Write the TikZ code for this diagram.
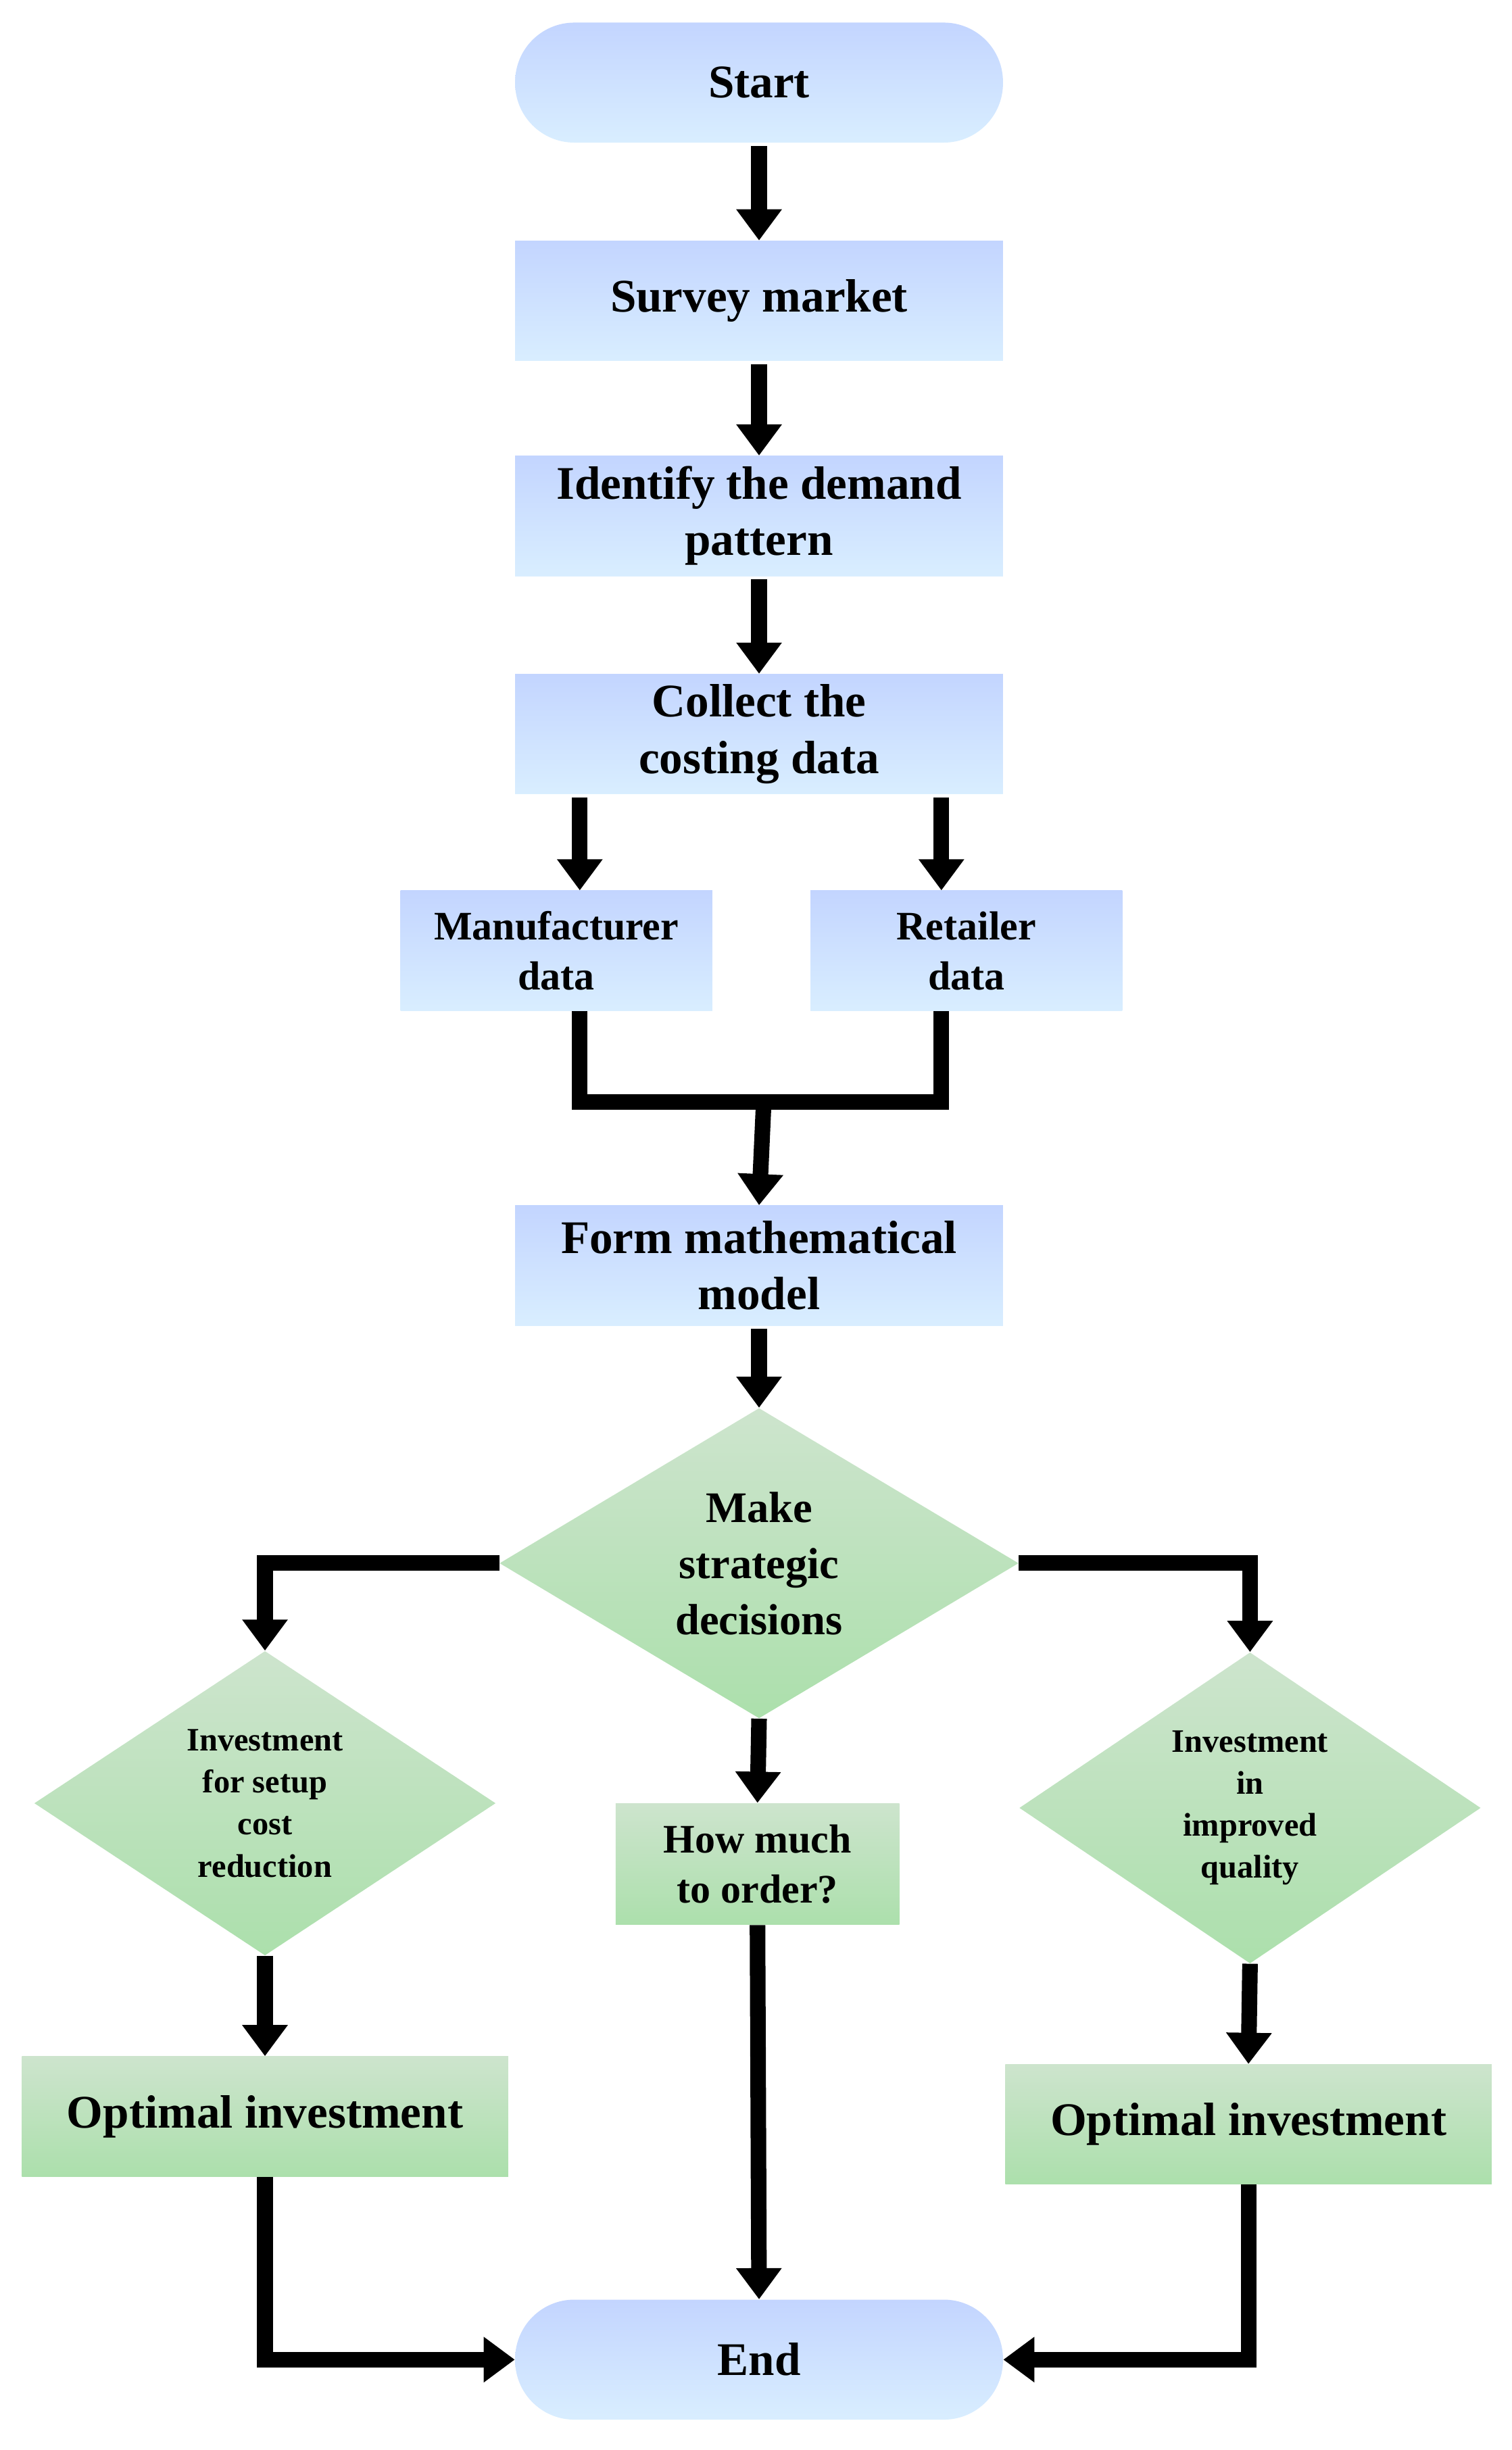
\documentclass[tikz,border=0pt]{standalone}
\usepackage{fontspec}
\setmainfont{Liberation Serif}
\usetikzlibrary{shapes.geometric,arrows.meta}
\begin{document}
\begin{tikzpicture}[x=1pt,y=-1pt,
 blue/.style={draw=none,top color=blue!18!cyan!10!white!85!blue,bottom color=blue!45!cyan!15!white,font=\bfseries\fontsize{30}{36}\selectfont,align=center,inner sep=0pt},
 grn/.style={draw=none,top color=green!30!gray!30!white,bottom color=green!45!gray!45!white,font=\bfseries\fontsize{30}{36}\selectfont,align=center,inner sep=0pt},
 arr/.style={line width=10pt,-{Triangle[width=28pt,length=20pt]}},
 ln/.style={line width=10pt}]
\useasboundingbox (0,0) rectangle (970,1572);
\node[blue,rounded corners=38pt,minimum width=313pt,minimum height=77pt] (start) at (487,53) {Start};
\node[blue,minimum width=313pt,minimum height=77pt] (survey) at (487,193) {Survey market};
\node[blue,minimum width=313pt,minimum height=77pt] (ident) at (487,331) {Identify the demand\\pattern};
\node[blue,minimum width=313pt,minimum height=77pt] (coll) at (487,471) {Collect the\\costing data};
\node[blue,minimum width=200pt,minimum height=77pt,font=\bfseries\fontsize{26}{32}\selectfont] (man) at (357,610) {Manufacturer\\data};
\node[blue,minimum width=200pt,minimum height=77pt,font=\bfseries\fontsize{26}{32}\selectfont] (ret) at (620,610) {Retailer\\data};
\node[blue,minimum width=313pt,minimum height=77pt] (form) at (487,812) {Form mathematical\\model};
\node[grn,diamond,minimum width=333pt,minimum height=186pt,font=\bfseries\fontsize{28}{36}\selectfont] (make) at (487,1003) {Make\\strategic\\decisions};
\node[grn,diamond,minimum width=296pt,minimum height=185pt,font=\bfseries\fontsize{21}{27}\selectfont] (ld) at (170,1157) {Investment\\for setup\\cost\\reduction};
\node[grn,diamond,minimum width=296pt,minimum height=184pt,font=\bfseries\fontsize{21}{27}\selectfont] (rd) at (802,1160) {Investment\\in\\improved\\quality};
\node[grn,minimum width=182pt,minimum height=78pt,font=\bfseries\fontsize{26}{32}\selectfont] (how) at (486,1196) {How much\\to order?};
\node[grn,minimum width=312pt,minimum height=77pt] (lo) at (170,1358) {Optimal investment};
\node[grn,minimum width=312pt,minimum height=77pt] (ro) at (801,1363) {Optimal investment};
\node[blue,rounded corners=38pt,minimum width=313pt,minimum height=77pt] (end) at (487,1514) {End};
\coordinate (j) at (490,707);
\draw[arr] (start.south) ++(0,2) -- (survey.north);
\draw[arr] (survey.south) ++(0,2) -- (ident.north);
\draw[arr] (ident.south) ++(0,2) -- (coll.north);
\draw[arr] ([xshift=-115pt]coll.south) ++(0,2) -- ([xshift=15pt]man.north);
\draw[arr] ([xshift=117pt]coll.south) ++(0,2) -- ([xshift=-16pt]ret.north);
\draw[ln,line join=miter] ([xshift=15pt]man.south) |- (j) -| ([xshift=-16pt]ret.south);
\draw[arr] (j) -- (form.north);
\draw[arr] (form.south) ++(0,2) -- (make.north);
\draw[arr] (make.west) -| (ld.north);
\draw[arr] (make.east) -| (rd.north);
\draw[arr] (make.south) -- (how.north);
\draw[arr] (how.south) -- (end.north);
\draw[arr] (ld.south) -- (lo.north);
\draw[arr] (rd.south) -- (ro.north);
\draw[arr] (lo.south) |- (end.west);
\draw[arr] (ro.south) |- (end.east);
\end{tikzpicture}
\end{document}
